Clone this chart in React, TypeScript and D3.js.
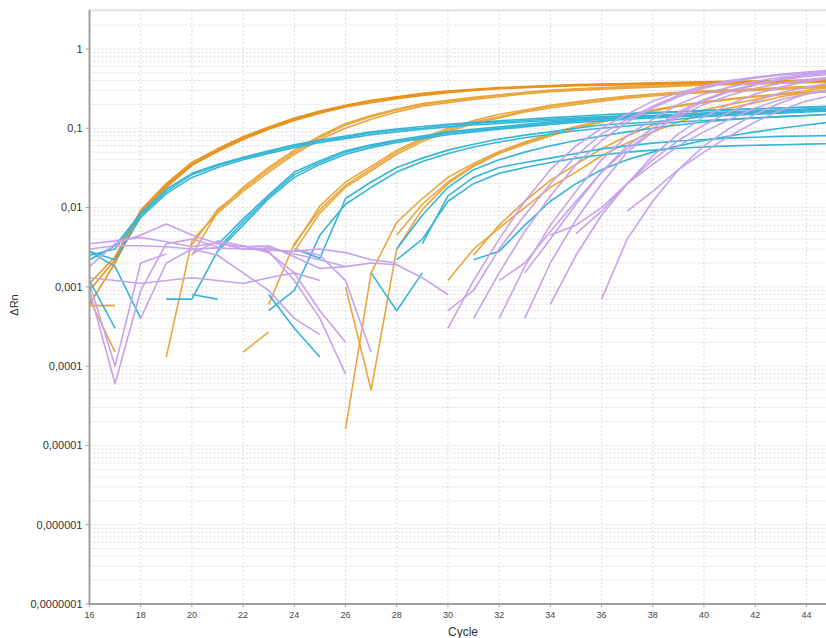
import React, { useEffect, useRef } from "react";
import * as d3 from "d3";

// [first cycle, ΔRn per cycle from there on]; null = not drawn (ΔRn <= 0)
type Well = [number, (number | null)[]];

// earliest dilution, drawn a bit darker in the original software
const orangeEarlyWells: Well[] = [
  [16, [0.0009, 0.0022, 0.0088, 0.019, 0.035, 0.053, 0.075, 0.1, 0.13, 0.16, 0.19, 0.22, 0.245, 0.27, 0.29, 0.305, 0.32, 0.33, 0.34, 0.35, 0.355, 0.36, 0.37, 0.375, 0.38, 0.385, 0.39, 0.395, 0.4, 0.4]],
  [16, [0.0006, 0.002, 0.0082, 0.018, 0.034, 0.051, 0.072, 0.097, 0.125, 0.155, 0.185, 0.21, 0.235, 0.26, 0.28, 0.3, 0.315, 0.325, 0.335, 0.345, 0.35, 0.355, 0.36, 0.365, 0.37, 0.375, 0.38, 0.385, 0.39, 0.39]],
  [16, [0.0011, 0.0024, 0.0093, 0.02, 0.037, 0.055, 0.078, 0.104, 0.135, 0.165, 0.195, 0.225, 0.25, 0.275, 0.295, 0.31, 0.325, 0.335, 0.345, 0.355, 0.36, 0.365, 0.375, 0.38, 0.385, 0.39, 0.395, 0.4, 0.405, 0.41]],
];

const orangeWells: Well[] = [
  [16, [0.0007, 0.00015]],
  [16, [0.00058, 0.00058]],
  [22, [0.00015, 0.00027]],
  [20, [0.0034, 0.0094, 0.017, 0.03, 0.05, 0.077, 0.11, 0.14, 0.17, 0.2, 0.22, 0.24, 0.26, 0.28, 0.3, 0.31, 0.32, 0.33, 0.34, 0.35, 0.36, 0.365, 0.37, 0.38, 0.385, 0.39]],
  [19, [0.00013, 0.0038, 0.0085, 0.016, 0.028, 0.047, 0.072, 0.1, 0.13, 0.16, 0.19, 0.21, 0.23, 0.25, 0.27, 0.29, 0.3, 0.31, 0.32, 0.33, 0.34, 0.35, 0.355, 0.36, 0.37, 0.375, 0.38]],
  [20, [0.0025, 0.0088, 0.018, 0.032, 0.053, 0.08, 0.115, 0.145, 0.175, 0.205, 0.225, 0.245, 0.265, 0.285, 0.3, 0.315, 0.325, 0.335, 0.345, 0.355, 0.36, 0.37, 0.375, 0.38, 0.39, 0.395]],
  [23, [0.0006, 0.0035, 0.0094, 0.019, 0.031, 0.05, 0.072, 0.095, 0.12, 0.14, 0.165, 0.19, 0.21, 0.23, 0.25, 0.265, 0.28, 0.29, 0.3, 0.31, 0.32, 0.33, 0.34]],
  [24, [0.0028, 0.0085, 0.018, 0.029, 0.047, 0.068, 0.09, 0.115, 0.135, 0.16, 0.18, 0.2, 0.22, 0.24, 0.255, 0.27, 0.28, 0.29, 0.3, 0.31, 0.32, 0.33]],
  [24, [0.0033, 0.0105, 0.021, 0.033, 0.053, 0.075, 0.1, 0.125, 0.15, 0.17, 0.195, 0.215, 0.235, 0.255, 0.27, 0.285, 0.295, 0.305, 0.315, 0.325, 0.335, 0.345]],
  [26, [0.001, 0.00005, 0.003, 0.0095, 0.02, 0.033, 0.048, 0.063, 0.08, 0.1, 0.12, 0.14, 0.165, 0.19, 0.21, 0.23, 0.25, 0.27, 0.28, 0.29]],
  [26, [0.000016, 0.0015, 0.0065, 0.013, 0.024, 0.036, 0.051, 0.067, 0.085, 0.105, 0.125, 0.148, 0.17, 0.195, 0.215, 0.235, 0.255, 0.27, 0.285, 0.295]],
  [28, [0.0045, 0.011, 0.021, 0.034, 0.049, 0.065, 0.082, 0.1, 0.12, 0.14, 0.165, 0.19, 0.21, 0.23, 0.25, 0.265, 0.28, 0.29]],
  [30, [0.0012, 0.003, 0.0055, 0.01, 0.018, 0.028, 0.045, 0.065, 0.09, 0.12, 0.15, 0.18, 0.21, 0.25, 0.28, 0.31]],
  [31, [0.0025, 0.006, 0.012, 0.022, 0.035, 0.055, 0.08, 0.11, 0.14, 0.17, 0.2, 0.23, 0.27, 0.3, 0.33]],
];

const cyanWells: Well[] = [
  [16, [0.0025, 0.003, 0.008, 0.016, 0.026, 0.034, 0.042, 0.05, 0.06, 0.069, 0.077, 0.087, 0.095, 0.1, 0.11, 0.115, 0.12, 0.125, 0.13, 0.135, 0.14, 0.145, 0.155, 0.16, 0.165, 0.17, 0.175, 0.18, 0.185, 0.19]],
  [16, [0.0028, 0.0022, 0.0075, 0.015, 0.024, 0.032, 0.04, 0.048, 0.057, 0.066, 0.074, 0.083, 0.09, 0.097, 0.104, 0.11, 0.115, 0.12, 0.125, 0.13, 0.135, 0.14, 0.145, 0.15, 0.155, 0.16, 0.165, 0.17, 0.175, 0.18]],
  [16, [0.0022, 0.0033, 0.0085, 0.017, 0.027, 0.035, 0.043, 0.052, 0.062, 0.071, 0.08, 0.09, 0.098, 0.105, 0.112, 0.118, 0.124, 0.13, 0.136, 0.142, 0.148, 0.153, 0.158, 0.163, 0.168, 0.172, 0.176, 0.18, 0.184, 0.188]],
  [16, [0.0012, 0.0003]],
  [16, [0.0028, 0.0018, 0.0004]],
  [20, [0.0008, 0.0007]],
  [23, [0.0008, 0.0003, 0.00013]],
  [27, [0.0015, 0.0005, 0.0015]],
  [21, [0.003, 0.0066, 0.0137, 0.026, 0.037, 0.05, 0.06, 0.069, 0.077, 0.087, 0.094, 0.1, 0.108, 0.117, 0.123, 0.13, 0.135, 0.14, 0.145, 0.15, 0.155, 0.16, 0.165, 0.17, 0.175]],
  [19, [0.0007, 0.0007, 0.0028, 0.006, 0.013, 0.024, 0.035, 0.047, 0.057, 0.066, 0.074, 0.083, 0.09, 0.097, 0.104, 0.112, 0.118, 0.124, 0.13, 0.135, 0.14, 0.145, 0.15, 0.155, 0.16, 0.165, 0.17]],
  [21, [0.0034, 0.0072, 0.0145, 0.028, 0.039, 0.052, 0.062, 0.071, 0.08, 0.09, 0.097, 0.104, 0.112, 0.12, 0.127, 0.133, 0.139, 0.144, 0.149, 0.154, 0.159, 0.164, 0.169, 0.174, 0.178]],
  [24, [0.003, 0.0023, 0.013, 0.021, 0.032, 0.042, 0.053, 0.063, 0.073, 0.082, 0.09, 0.1, 0.11, 0.115, 0.12, 0.13, 0.14, 0.145, 0.15, 0.155, 0.16, 0.165]],
  [23, [0.0005, 0.0009, 0.0045, 0.011, 0.018, 0.028, 0.038, 0.048, 0.058, 0.067, 0.076, 0.084, 0.093, 0.1, 0.107, 0.113, 0.12, 0.125, 0.13, 0.135, 0.14, 0.145, 0.15]],
  [28, [0.0022, 0.004, 0.012, 0.02, 0.027, 0.032, 0.037, 0.042, 0.046, 0.05, 0.053, 0.056, 0.058, 0.06, 0.061, 0.062, 0.063, 0.064]],
  [29, [0.0035, 0.014, 0.024, 0.032, 0.037, 0.042, 0.048, 0.055, 0.06, 0.065, 0.069, 0.072, 0.075, 0.077, 0.079, 0.08, 0.081]],
  [28, [0.003, 0.008, 0.018, 0.03, 0.04, 0.05, 0.06, 0.07, 0.08, 0.09, 0.1, 0.11, 0.12, 0.128, 0.135, 0.14, 0.145, 0.15]],
  [31, [0.0022, 0.0028, 0.006, 0.012, 0.02, 0.03, 0.04, 0.05, 0.06, 0.07, 0.08, 0.09, 0.1, 0.11, 0.12]],
];

const purpleWells: Well[] = [
  [16, [0.003, 0.0033, 0.0033, 0.0032, 0.003, 0.0031, 0.003, 0.0029, 0.0028, 0.003, 0.0027, 0.0022, 0.002]],
  [16, [0.0018, 0.0035, 0.0045, 0.0062, 0.0045, 0.0035, 0.0032, 0.0033, 0.0024, 0.0017, 0.0018, 0.002, 0.0019, 0.0013, 0.0008]],
  [16, [0.0013, 0.0012, 0.0011, 0.0012, 0.0013, 0.0012, 0.0011, 0.0013, 0.0015, 0.0012]],
  [16, [0.0009, 0.00006, 0.0009, 0.0035, 0.004, 0.0032]],
  [16, [0.0011, 0.0001, 0.002, 0.0026]],
  [18, [0.0004, 0.002, 0.003, 0.0025, 0.0015, 0.0009, 0.0004, 0.00025]],
  [22, [0.0033, 0.0028, 0.0012, 0.0004, 0.00008]],
  [24, [0.003, 0.0025, 0.0012, 0.00015]],
  [20, [0.0026, 0.0038, 0.0033, 0.0027, 0.0015, 0.0005, 0.0002]],
  [16, [0.0035, 0.0038, 0.0042, 0.0037, 0.0032, 0.0036, 0.003, 0.0031, 0.0026, 0.0022, 0.0018]],
  [30, [0.0003, 0.0012, 0.004, 0.012, 0.03, 0.06, 0.1, 0.15, 0.22, 0.28, 0.34, 0.4, 0.44, 0.48, 0.5, 0.52]],
  [30, [0.0005, 0.0009, 0.003, 0.008, 0.02, 0.045, 0.085, 0.13, 0.19, 0.26, 0.33, 0.39, 0.44, 0.48, 0.51, 0.54]],
  [31, [0.0004, 0.0015, 0.005, 0.014, 0.035, 0.07, 0.12, 0.18, 0.25, 0.32, 0.38, 0.43, 0.47, 0.5, 0.53]],
  [32, [0.0004, 0.0018, 0.006, 0.016, 0.04, 0.08, 0.13, 0.2, 0.27, 0.33, 0.39, 0.44, 0.48, 0.5]],
  [33, [0.0004, 0.002, 0.007, 0.02, 0.05, 0.09, 0.15, 0.22, 0.29, 0.35, 0.41, 0.45, 0.48]],
  [33, [0.0015, 0.004, 0.011, 0.028, 0.06, 0.1, 0.16, 0.23, 0.3, 0.36, 0.42, 0.47, 0.5]],
  [34, [0.0006, 0.0025, 0.008, 0.02, 0.045, 0.085, 0.14, 0.2, 0.27, 0.33, 0.39, 0.43]],
  [35, [0.0047, 0.009, 0.02, 0.04, 0.07, 0.11, 0.16, 0.22, 0.28, 0.33, 0.37]],
  [36, [0.0007, 0.004, 0.012, 0.03, 0.06, 0.1, 0.15, 0.21, 0.27, 0.31]],
  [37, [0.009, 0.016, 0.03, 0.05, 0.08, 0.12, 0.17, 0.22, 0.26]],
  [32, [0.0012, 0.002, 0.005, 0.012, 0.028, 0.055, 0.09, 0.14, 0.2, 0.26, 0.32, 0.37, 0.41, 0.44]],
  [34, [0.0045, 0.006, 0.01, 0.02, 0.035, 0.06, 0.09, 0.13, 0.18, 0.23, 0.27, 0.3]],
];

const xTicks = [16, 18, 20, 22, 24, 26, 28, 30, 32, 34, 36, 38, 40, 42, 44];
const yTickValues = [1, 0.1, 0.01, 0.001, 0.0001, 0.00001, 0.000001, 0.0000001];
const yTickLabels = ["1", "0,1", "0,01", "0,001", "0,0001", "0,00001", "0,000001", "0,0000001"];

const width = 826;
const height = 638;
const margin = { top: 10, right: -6, bottom: 34, left: 89.5 };

function AmplificationPlot() {
  const svgRef = useRef<SVGSVGElement>(null);

  useEffect(() => {
    const svg = d3.select(svgRef.current);
    svg.selectAll("*").remove();

    const x = d3
      .scaleLinear()
      .domain([16, 45])
      .range([margin.left, width - margin.right]);
    const y = d3
      .scaleLog()
      .domain([1e-7, 3.1])
      .range([height - margin.bottom, margin.top]);

    const font = "'Liberation Sans', Arial, sans-serif";

    // grid
    const grid = svg.append("g");
    const minor: number[] = [];
    for (let e = -7; e <= 0; e++) {
      for (let k = 1; k <= 9; k++) {
        const v = k * Math.pow(10, e);
        if (v <= 3.1) minor.push(v);
      }
    }
    grid
      .selectAll("line.h")
      .data(minor)
      .join("line")
      .attr("x1", margin.left)
      .attr("x2", width)
      .attr("y1", (d) => y(d))
      .attr("y2", (d) => y(d))
      .attr("stroke", "#dcdcdc")
      .attr("stroke-dasharray", "2,2");
    grid
      .selectAll("line.v")
      .data(xTicks.slice(1))
      .join("line")
      .attr("x1", (d) => x(d))
      .attr("x2", (d) => x(d))
      .attr("y1", margin.top)
      .attr("y2", height - margin.bottom)
      .attr("stroke", "#dcdcdc")
      .attr("stroke-dasharray", "2,2");

    // frame
    svg
      .append("line")
      .attr("x1", margin.left)
      .attr("x2", width)
      .attr("y1", margin.top)
      .attr("y2", margin.top)
      .attr("stroke", "#cfcfcf");

    // curves
    svg
      .append("clipPath")
      .attr("id", "plot-clip")
      .append("rect")
      .attr("x", margin.left)
      .attr("y", margin.top)
      .attr("width", width - margin.left)
      .attr("height", height - margin.bottom - margin.top);

    const line = d3
      .line<[number, number | null]>()
      .defined((d) => d[1] != null && d[1] > 0)
      .x((d) => x(d[0]))
      .y((d) => y(d[1] as number))
      .curve(d3.curveLinear);

    const toPoints = (w: Well) =>
      w[1].map((v, i) => [w[0] + i, v] as [number, number | null]);

    const curves = svg.append("g").attr("clip-path", "url(#plot-clip)");
    const groups: [Well[], string][] = [
      [orangeWells, "#eaa63c"],
      [orangeEarlyWells, "#e8921a"],
      [cyanWells, "#35b6d7"],
      [purpleWells, "#c7a2ec"],
    ];
    groups.forEach(([wells, color]) => {
      curves
        .append("g")
        .selectAll("path")
        .data(wells)
        .join("path")
        .attr("fill", "none")
        .attr("stroke", color)
        .attr("stroke-width", 1.6)
        .attr("stroke-linejoin", "round")
        .attr("d", (w) => line(toPoints(w)));
    });

    // axes
    svg
      .append("line")
      .attr("x1", margin.left)
      .attr("x2", margin.left)
      .attr("y1", margin.top)
      .attr("y2", height - margin.bottom)
      .attr("stroke", "#a0a0a0")
      .attr("stroke-width", 2);
    svg
      .append("line")
      .attr("x1", margin.left - 1)
      .attr("x2", width)
      .attr("y1", height - margin.bottom)
      .attr("y2", height - margin.bottom)
      .attr("stroke", "#a0a0a0")
      .attr("stroke-width", 2);

    const yAxis = svg.append("g");
    yAxis
      .selectAll("line")
      .data(yTickValues)
      .join("line")
      .attr("x1", margin.left - 4)
      .attr("x2", margin.left)
      .attr("y1", (d) => y(d))
      .attr("y2", (d) => y(d))
      .attr("stroke", "#a0a0a0");
    yAxis
      .selectAll("text")
      .data(yTickValues)
      .join("text")
      .attr("x", margin.left - 7)
      .attr("y", (d) => y(d))
      .attr("dy", "0.35em")
      .attr("text-anchor", "end")
      .attr("font-family", font)
      .attr("font-size", 11)
      .attr("fill", "#333")
      .text((d, i) => yTickLabels[i]);

    const xAxis = svg.append("g");
    xAxis
      .selectAll("line")
      .data(xTicks)
      .join("line")
      .attr("x1", (d) => x(d))
      .attr("x2", (d) => x(d))
      .attr("y1", height - margin.bottom)
      .attr("y2", height - margin.bottom + 3)
      .attr("stroke", "#a0a0a0");
    xAxis
      .selectAll("text")
      .data(xTicks)
      .join("text")
      .attr("x", (d) => x(d))
      .attr("y", height - margin.bottom + 14)
      .attr("text-anchor", "middle")
      .attr("font-family", font)
      .attr("font-size", 9)
      .attr("fill", "#444")
      .text((d) => String(d));

    svg
      .append("text")
      .attr("x", 463)
      .attr("y", height - 2)
      .attr("text-anchor", "middle")
      .attr("font-family", font)
      .attr("font-size", 12)
      .attr("fill", "#333")
      .text("Cycle");

    svg
      .append("text")
      .attr("transform", `translate(18, 305) rotate(-90)`)
      .attr("text-anchor", "middle")
      .attr("font-family", font)
      .attr("font-size", 11)
      .attr("fill", "#333")
      .text("ΔRn");
  }, []);

  return (
    <svg
      ref={svgRef}
      width={width}
      height={height}
      style={{ position: "absolute", left: 0, top: 0, background: "#fff" }}
    ></svg>
  );
}

export default function App() {
  return <AmplificationPlot />;
}
